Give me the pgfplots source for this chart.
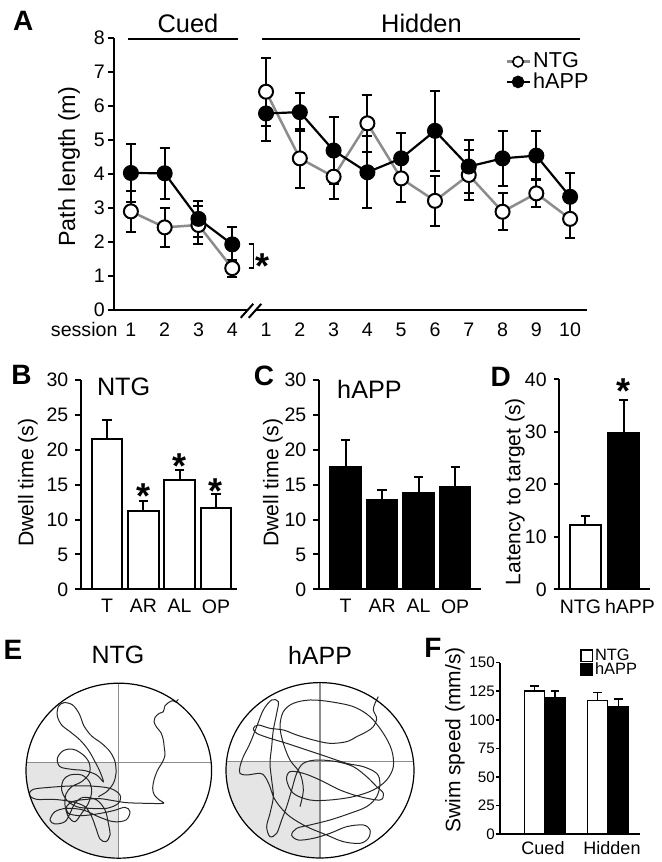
\documentclass[border=0pt]{standalone}
\usepackage{fontspec}
\setmainfont{Liberation Sans}
\usepackage{pgfplots}
\usepackage{pgfplotstable}
\pgfplotsset{compat=1.18}
\definecolor{ntggray}{gray}{0.55}
\definecolor{quadgray}{gray}{0.9}
\definecolor{linegray}{gray}{0.55}
\definecolor{pathgray}{gray}{0.15}
\newcommand{\fs}[1]{\fontsize{#1}{#1}\selectfont}

\pgfplotsset{
  panel/.style={
    scale only axis, anchor=south west, clip=false,
    axis lines=left,
    axis line style={-, line width=1pt},
    tick align=outside,
    major tick length=2.8pt,
    tick style={line width=1pt, black},
    xtick style={draw=none},
    /pgf/number format/assume math mode=true,
    ticklabel style={font=\fs{9.75}},
  },
  ebar/.style={error bars/.cd, y dir=plus, y explicit,
    error bar style={line width=1pt, draw=black},
    error mark options={rotate=90, mark size=2.3pt, line width=1pt, draw=black}},
  ebarboth/.style={error bars/.cd, y dir=both, y explicit,
    error bar style={line width=1pt, draw=black, solid},
    error mark options={rotate=90, mark size=2.5pt, line width=1pt, draw=black}},
}

% Panel A data: x index, mean, sem
\pgfplotstableread{
x y e
0 2.90 0.60
1 2.43 0.58
2 2.50 0.55
3 1.23 0.25
}\ntgcued
\pgfplotstableread{
x y e
0 4.03 0.85
1 4.02 0.75
2 2.68 0.52
3 1.93 0.50
}\happcued
\pgfplotstableread{
x y e
4 6.42 1.00
5 4.46 0.86
6 3.92 0.66
7 5.49 0.83
8 3.87 0.70
9 3.21 0.73
10 3.97 0.73
11 2.89 0.55
12 3.43 0.41
13 2.68 0.57
}\ntghid
\pgfplotstableread{
x y e
4 5.78 0.80
5 5.82 0.55
6 4.69 0.98
7 4.05 1.06
8 4.46 0.76
9 5.27 1.17
10 4.22 0.78
11 4.46 0.81
12 4.54 0.72
13 3.33 0.69
}\happhid

\begin{document}
\begin{tikzpicture}
\useasboundingbox (0pt,0pt) rectangle (330.5pt,431pt);

% ---------------- Panel A ----------------
\begin{axis}[panel, at={(57pt,276pt)}, width=236.5pt, height=136pt,
  xmin=-0.5, xmax=13.5, ymin=0, ymax=8, ytick={0,...,8},
  x axis line style={draw=none},
  xtick={0,...,13},
  xticklabels={\llap{session\hspace{4pt}}1,2,3,4,1,2,3,4,5,6,7,8,9,10},
  ticklabel style={font=\fs{9.8}},
  yticklabel style={inner sep=1.6pt},
  legend style={at={(axis cs:11.07,7.65)}, anchor=north west, draw=none, fill=none,
    inner sep=0pt, font=\fs{10.8}, row sep=-1.5pt, nodes={inner sep=1.2pt}},
  legend cell align=left,
  legend image code/.code={\draw[mark repeat=2,mark phase=2,#1] plot coordinates {(0pt,0pt) (5.75pt,0pt) (11.5pt,0pt)};},
]
\addplot[forget plot, draw=none, mark=none, ebarboth] table[x=x,y=y,y error=e]{\ntgcued};
\addplot[forget plot, draw=none, mark=none, ebarboth] table[x=x,y=y,y error=e]{\ntghid};
\addplot[forget plot, draw=none, mark=none, ebarboth] table[x=x,y=y,y error=e]{\happcued};
\addplot[forget plot, draw=none, mark=none, ebarboth] table[x=x,y=y,y error=e]{\happhid};
\addplot[forget plot, ntggray, line width=1.25pt, mark=*, mark size=3.5pt,
  mark options={fill=white, draw=black, line width=1pt}] table[x=x,y=y]{\ntgcued};
\addplot[forget plot, ntggray, line width=1.25pt, mark=*, mark size=3.5pt,
  mark options={fill=white, draw=black, line width=1pt}] table[x=x,y=y]{\ntghid};
\addplot[forget plot, black, line width=1.1pt, mark=*, mark size=3.5pt,
  mark options={fill=black, draw=black, line width=1pt}] table[x=x,y=y]{\happcued};
\addplot[forget plot, black, line width=1.1pt, mark=*, mark size=3.5pt,
  mark options={fill=black, draw=black, line width=1pt}] table[x=x,y=y]{\happhid};
\addlegendimage{ntggray, line width=1.25pt, mark=*, mark size=2.6pt, mark options={fill=white, draw=black, line width=0.8pt}}
\addlegendentry{NTG}
\addlegendimage{black, line width=1.1pt, mark=*, mark size=2.6pt, mark options={fill=black, draw=black}}
\addlegendentry{hAPP}
% broken x axis
\draw[line width=1pt] (axis cs:-0.5,0) -- (axis cs:3.43,0);
\draw[line width=1pt] (axis cs:3.67,0) -- (axis cs:13.5,0);
\draw[line width=1pt] (axis cs:3.25,-0.23) -- (axis cs:3.62,0.18);
\draw[line width=1pt] (axis cs:3.49,-0.23) -- (axis cs:3.86,0.18);
% condition bars
\draw[line width=1pt] (axis cs:-0.09,7.97) -- (axis cs:3.17,7.97);
\draw[line width=1pt] (axis cs:3.88,7.97) -- (axis cs:13.28,7.97);
\node[font=\fs{12.7}] at (axis cs:1.69,8.44) {Cued};
\node[font=\fs{12.7}] at (axis cs:8.6,8.44) {Hidden};
% bracket and star
\draw[line width=0.6pt] (axis cs:3.49,1.94) -- (axis cs:3.64,1.94) -- (axis cs:3.64,1.235) -- (axis cs:3.49,1.235);
\node[font=\fs{18}\bfseries, yshift=-3.9pt] at (axis cs:3.91,1.52) {*};
\end{axis}
\node[font=\fs{14}\bfseries] at (11.67pt,420.6pt) {A};
\node[font=\fs{11.7}, rotate=90] at (34.5pt,347.65pt) {Path length (m)};

% ---------------- Panel B ----------------
\begin{axis}[panel, at={(40.5pt,136.35pt)}, width=78pt, height=104.65pt,
  xmin=-0.716, xmax=3.58, ymin=0, ymax=30, ytick={0,5,...,30},
  xtick={0,1,2,3}, xticklabels={T,AR,AL,OP}, xticklabel style={yshift=1.2pt}]
\addplot[forget plot, ybar, bar width=15.35pt, bar shift=0pt, fill=white, draw=black, line width=1pt, ebar]
  coordinates {(0,21.6) +- (0,2.6) (1,11.2) +- (0,1.5) (2,15.66) +- (0,1.5) (3,11.6) +- (0,2.0)};
\node[anchor=west, font=\fs{12.6}] at (axis cs:-0.47,29.0) {NTG};
\node[font=\fs{18}\bfseries, yshift=-3.9pt] at (axis cs:1,14.47) {*};
\node[font=\fs{18}\bfseries, yshift=-3.9pt] at (axis cs:2,18.77) {*};
\node[font=\fs{18}\bfseries, yshift=-3.9pt] at (axis cs:3,15.19) {*};
\end{axis}
\node[font=\fs{14}\bfseries] at (10.8pt,243.5pt) {B};
\node[font=\fs{10.6}, rotate=90] at (14pt,189.65pt) {Dwell time (s)};

% ---------------- Panel C ----------------
\begin{axis}[panel, at={(159.5pt,136.35pt)}, width=80.85pt, height=104.65pt,
  xmin=-0.726, xmax=3.70, ymin=0, ymax=30, ytick={0,5,...,30},
  xtick={0,1,2,3}, xticklabels={T,AR,AL,OP}, xticklabel style={yshift=1.2pt}]
\addplot[forget plot, ybar, bar width=15.35pt, bar shift=0pt, fill=black, draw=black, line width=1pt, ebar]
  coordinates {(0,17.56) +- (0,3.9) (1,12.8) +- (0,1.5) (2,13.75) +- (0,2.4) (3,14.7) +- (0,2.9)};
\node[anchor=west, font=\fs{12.6}] at (axis cs:-0.42,28.6) {hAPP};
\end{axis}
\node[font=\fs{14}\bfseries] at (132pt,243.1pt) {C};
\node[font=\fs{10.6}, rotate=90] at (136.5pt,189.65pt) {Dwell time (s)};

% ---------------- Panel D ----------------
\begin{axis}[panel, at={(279.65pt,136.35pt)}, width=45.35pt, height=105pt,
  xmin=-0.675, xmax=1.68, ymin=0, ymax=40, ytick={0,10,...,40},
  xtick={-0.125,1.16}, xticklabels={NTG,hAPP}, xticklabel style={yshift=1.2pt}]
\addplot[forget plot, ybar, bar width=15.35pt, bar shift=0pt, fill=white, draw=black, line width=1pt, ebar]
  coordinates {(0,12.25) +- (0,1.7)};
\addplot[forget plot, ybar, bar width=15.35pt, bar shift=0pt, fill=black, draw=black, line width=1pt, ebar]
  coordinates {(1,29.7) +- (0,6.3)};
\node[font=\fs{18}\bfseries, yshift=-3.9pt] at (axis cs:1,39.2) {*};
\end{axis}
\node[font=\fs{14}\bfseries] at (250.4pt,242.65pt) {D};
\node[font=\fs{10.5}, rotate=90] at (257.5pt,185.15pt) {Latency to target (s)};

% ---------------- Panel E ----------------
\begin{scope}
  \clip (59.4pt,45.65pt) ellipse [x radius=46.4pt, y radius=43.75pt];
  \fill[quadgray] (0pt,0pt) rectangle (59.15pt,49.65pt);
  \draw[linegray, line width=0.7pt] (0pt,49.65pt) -- (120pt,49.65pt);
  \draw[linegray, line width=0.7pt] (59.15pt,0pt) -- (59.15pt,100pt);
\end{scope}
\begin{scope}
  \clip (160pt,45.85pt) ellipse [x radius=47pt, y radius=43.85pt];
  \fill[quadgray] (100pt,0pt) rectangle (160pt,50.15pt);
  \draw[linegray, line width=0.7pt] (100pt,50.15pt) -- (220pt,50.15pt);
  \draw[linegray, line width=0.7pt] (160pt,0pt) -- (160pt,100pt);
\end{scope}
\begin{axis}[scale only axis, anchor=south west, at={(0pt,0pt)}, width=220pt, height=100pt,
  xmin=0, xmax=440, ymin=0, ymax=200, hide axis, clip=false]
\addplot[forget plot, pathgray, line width=0.5pt, smooth, tension=0.55,
  x filter/.expression={x/3}, y filter/.expression={222-y/3}] coordinates {
(535,178) (527,186) (518,182) (505,188) (495,197) (490,215) (478,220) (465,232) (462,245) (470,262)
(483,278) (490,300) (493,325) (495,345) (488,365) (472,392) (462,420) (458,445) (463,465) (478,480)
(490,490) (440,490) (380,488) (340,482) (300,476) (260,478) (220,484) (200,500) (205,520) (240,527)
(290,522) (340,512) (375,502) (390,515) (378,540) (340,545) (295,530) (250,510) (200,505) (165,515)
(150,540) (165,552) (195,545) (210,520) (225,490) (250,472) (290,480) (315,510) (325,550) (330,585)
(318,605) (300,597) (288,565) (275,530) (255,500) (215,485) (160,478) (110,478) (88,465) (100,448)
(150,442) (210,438) (270,438) (330,445) (360,465) (355,490) (320,505) (270,505) (230,500) (200,480)
(185,450) (190,420) (210,405) (245,405) (268,425) (275,455) (265,490) (245,520) (225,545) (205,530)
(195,495) (198,462) (215,440) (245,425) (268,400) (268,370) (250,345) (220,328) (190,332) (172,355)
(180,380) (215,388) (255,392) (290,405) (310,425) (300,395) (285,365) (265,330) (240,300) (210,275)
(185,255) (172,228) (175,200) (192,188) (218,195) (238,222) (252,258) (275,288) (305,310) (330,335)
(345,365) (348,400) (340,430) (320,455) (295,470)
};
\addplot[forget plot, pathgray, line width=0.5pt, smooth, tension=0.55,
  x filter/.expression={x/3+220}, y filter/.expression={222-y/3}] coordinates {
(475,170) (465,190) (460,210) (470,235) (460,260) (440,275) (410,290) (380,305) (330,310) (280,300)
(230,285) (190,270) (150,265) (115,255) (100,265) (110,280) (150,295) (200,310) (260,330) (320,350)
(380,370) (430,380) (470,400) (480,430) (470,470) (440,500) (390,520) (330,540) (270,555) (230,565)
(215,585) (235,600) (280,595) (330,580) (380,560) (430,555) (450,570) (445,595) (420,610) (370,605)
(320,585) (260,560) (210,530) (180,500) (160,470) (150,440) (135,410) (120,400) (80,405) (60,400)
(60,380) (70,350) (90,310) (110,260) (130,210) (155,180) (175,185) (170,220) (160,270) (155,320)
(150,370) (155,420) (160,470) (150,520) (140,560) (150,590) (170,580) (185,540) (200,500) (215,450)
(230,400) (250,370) (290,360) (350,365) (400,380) (440,410) (470,440) (490,460) (480,480) (420,470)
(360,450) (300,420) (250,400) (210,395) (200,420) (220,460) (270,480) (330,480) (400,470) (460,450)
(500,420) (520,380) (515,330) (490,280) (450,230) (400,200) (330,185) (270,180) (220,190) (190,215)
(180,260) (190,310) (210,360) (240,400) (250,450) (240,500)
};
\end{axis}
\draw[black, line width=0.6pt] (59.4pt,45.65pt) ellipse [x radius=46.4pt, y radius=43.75pt];
\draw[black, line width=0.6pt] (160pt,45.85pt) ellipse [x radius=47pt, y radius=43.85pt];
\node[font=\fs{14}\bfseries] at (6.5pt,106pt) {E};
\node[font=\fs{12.5}] at (59pt,103.5pt) {NTG};
\node[font=\fs{12.5}] at (160pt,103.2pt) {hAPP};

% ---------------- Panel F ----------------
\begin{axis}[panel, at={(250pt,13.85pt)}, width=70pt, height=85.8pt,
  xmin=500, xmax=640, ymin=0, ymax=150, ytick={0,25,...,150},
  axis line style={-, line width=0.8pt}, tick style={line width=0.8pt, black},
  major tick length=1.8pt,
  ticklabel style={font=\fs{7.6}},
  yticklabel style={inner sep=0.6pt},
  xtick={543,612}, xticklabels={Cued,Hidden}, xticklabel style={font=\fs{9}, yshift=1.6pt},
  legend style={at={(axis cs:580,164)}, anchor=north west, draw=none, fill=none,
    inner sep=0pt, font=\fs{8.2}, row sep=-2pt, nodes={inner sep=0.8pt}},
  legend cell align=left,
  legend image code/.code={\draw[#1, line width=0.7pt] (0pt,-2.9pt) rectangle (5.8pt,2.9pt);},
]
\addplot[forget plot, ybar, bar width=10pt, bar shift=0pt, fill=white, draw=black, line width=0.8pt,
  error bars/.cd, y dir=plus, y explicit, error bar style={line width=0.8pt, draw=black},
  error mark options={rotate=90, mark size=2.2pt, line width=0.8pt, draw=black}]
  coordinates {(534.3,125.3) +- (0,4.3) (597.5,116.8) +- (0,7.0)};
\addplot[forget plot, ybar, bar width=10pt, bar shift=0pt, fill=black, draw=black, line width=0.8pt,
  error bars/.cd, y dir=plus, y explicit, error bar style={line width=0.8pt, draw=black},
  error mark options={rotate=90, mark size=2.2pt, line width=0.8pt, draw=black}]
  coordinates {(555,118.9) +- (0,6.4) (618.3,111.5) +- (0,6.8)};
\addlegendimage{fill=white, draw=black}
\addlegendentry{NTG}
\addlegendimage{fill=black, draw=black}
\addlegendentry{hAPP}
\end{axis}
\node[font=\fs{14}\bfseries] at (216.5pt,107pt) {F};
\node[font=\fs{10.5}, rotate=90] at (227.5pt,61pt) {Swim speed (mm/s)};
\end{tikzpicture}
\end{document}
